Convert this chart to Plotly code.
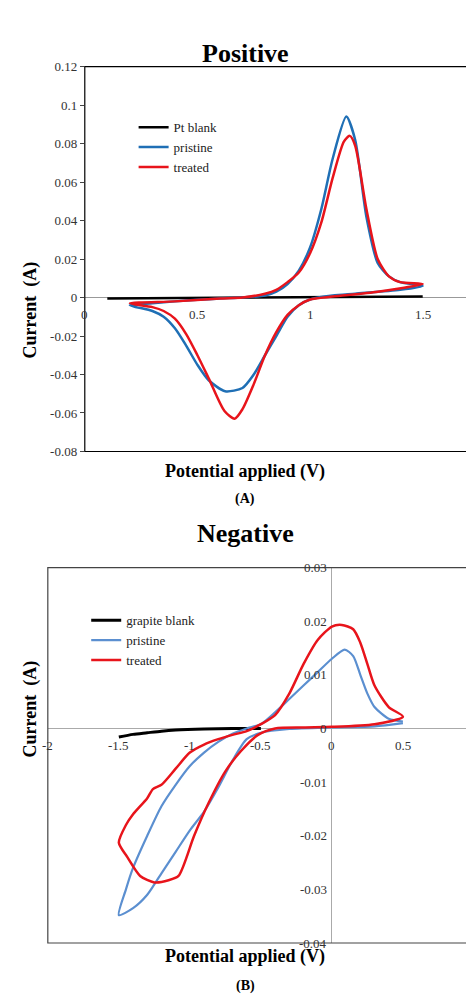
import plotly.graph_objects as go

# ---- Panel A (Positive) data ----
a_blank_x = [0.1, 0.5, 1.0, 1.5]
a_blank_y = [-0.0005, -0.0002, 0.0002, 0.0005]
a_pris_x = [0.2, 0.3, 0.4, 0.5, 0.6, 0.7, 0.8, 0.85, 0.9, 0.95, 1.0, 1.05, 1.1, 1.161, 1.2, 1.25, 1.3, 1.35, 1.4, 1.5,
            1.4, 1.2, 1.1, 1.0, 0.95, 0.9, 0.85, 0.8, 0.75, 0.7, 0.623, 0.55, 0.5, 0.45, 0.4, 0.35, 0.3, 0.2]
a_pris_y = [-0.004, -0.003, -0.002, -0.0012, -0.0005, 0.0, 0.001, 0.003, 0.007, 0.014, 0.026, 0.046, 0.072, 0.094, 0.082, 0.042, 0.018, 0.011, 0.008, 0.006,
            0.004, 0.002, 0.001, -0.001, -0.004, -0.01, -0.02, -0.03, -0.04, -0.047, -0.0487, -0.043, -0.035, -0.025, -0.016, -0.01, -0.007, -0.004]
a_treat_x = [0.2, 0.4, 0.6, 0.7, 0.8, 0.85, 0.9, 0.95, 1.0, 1.05, 1.1, 1.15, 1.176, 1.2, 1.25, 1.3, 1.35, 1.4, 1.5,
             1.3, 1.1, 1.0, 0.95, 0.9, 0.85, 0.8, 0.75, 0.7, 0.665, 0.62, 0.55, 0.5, 0.45, 0.4, 0.35, 0.3, 0.2]
a_treat_y = [-0.003, -0.002, -0.0005, 0.0, 0.002, 0.004, 0.008, 0.013, 0.023, 0.039, 0.062, 0.081, 0.084, 0.079, 0.046, 0.02, 0.011, 0.008, 0.007,
             0.003, 0.0005, -0.001, -0.004, -0.009, -0.018, -0.03, -0.045, -0.058, -0.063, -0.059, -0.042, -0.03, -0.019, -0.011, -0.007, -0.005, -0.003]
a_xticks = [0, 0.5, 1, 1.5]
a_xlabels = ["0", "0.5", "1", "1.5"]
a_yticks = [-0.08, -0.06, -0.04, -0.02, 0, 0.02, 0.04, 0.06, 0.08, 0.1, 0.12]
a_ylabels = ["-0.08", "-0.06", "-0.04", "-0.02", "0", "0.02", "0.04", "0.06", "0.08", "0.1", "0.12"]

# ---- Panel B (Negative) data ----
b_blank_x = [-1.5, -1.4, -1.3, -1.2, -1.1, -0.9, -0.7, -0.5]
b_blank_y = [-0.0016, -0.0011, -0.0008, -0.0005, -0.0003, -0.0001, 0.0, 0.0]
b_pris_x = [0.5, 0.3, 0.0, -0.3, -0.5, -0.6, -0.7, -0.8, -0.9, -1.0, -1.1, -1.2, -1.3, -1.4, -1.5,
            -1.45, -1.4, -1.3, -1.2, -1.1, -1.0, -0.9, -0.8, -0.7, -0.6, -0.5, -0.4, -0.3, -0.2, -0.1, 0.0, 0.09, 0.15, 0.2, 0.25, 0.3, 0.4, 0.5]
b_pris_y = [0.001, 0.0004, 0.0002, -0.0001, -0.0008, -0.002, -0.006, -0.011, -0.0155, -0.019, -0.023, -0.027, -0.031, -0.0335, -0.0348,
            -0.03, -0.026, -0.02, -0.0145, -0.0105, -0.007, -0.0045, -0.0025, -0.001, 0.0, 0.0008, 0.003, 0.0055, 0.008, 0.0105, 0.013, 0.0147, 0.0135, 0.01, 0.0065, 0.004, 0.0018, 0.0013]
b_treat_x = [0.5, 0.4, 0.3, 0.25, 0.2, 0.15, 0.07, 0.0, -0.1, -0.2, -0.3, -0.4, -0.5, -0.6, -0.7, -0.8, -0.9, -1.0, -1.1, -1.2, -1.26, -1.3, -1.4, -1.45, -1.5,
             -1.44, -1.35, -1.25, -1.15, -1.08, -0.97, -0.87, -0.75, -0.64, -0.52, -0.4, -0.2, 0.0, 0.3, 0.5]
b_treat_y = [0.0022, 0.004, 0.008, 0.012, 0.016, 0.0185, 0.0193, 0.019, 0.0165, 0.012, 0.0065, 0.0025, 0.0008, -0.0005, -0.0012, -0.002, -0.003, -0.0045, -0.0075, -0.0105, -0.0113, -0.013, -0.016, -0.018, -0.0213,
             -0.024, -0.0275, -0.0287, -0.0283, -0.0275, -0.02, -0.014, -0.008, -0.0042, -0.0012, 0.0, 0.0002, 0.0003, 0.0008, 0.0022]
b_xticks = [-2, -1.5, -1, -0.5, 0, 0.5, 1]
b_xlabels = ["-2", "-1.5", "-1", "-0.5", "0", "0.5", "1"]
b_yticks = [-0.04, -0.03, -0.02, -0.01, 0, 0.01, 0.02, 0.03]
b_ylabels = ["-0.04", "-0.03", "-0.02", "-0.01", "0", "0.01", "0.02", "0.03"]

BLUE_A = "#1F6FB5"
BLUE_B = "#5B8FD0"
RED = "#E8141B"
FONT = "Liberation Serif"
TICKF = dict(family=FONT, size=13, color="#333")

fig = go.Figure()
ln = dict(shape="spline", smoothing=0.7)
fig.add_trace(go.Scatter(x=a_blank_x, y=a_blank_y, mode="lines", name="Pt blank", line=dict(color="black", width=2.5), xaxis="x", yaxis="y", legend="legend"))
fig.add_trace(go.Scatter(x=a_pris_x, y=a_pris_y, mode="lines", name="pristine", line=dict(color=BLUE_A, width=2.5, **ln), xaxis="x", yaxis="y", legend="legend"))
fig.add_trace(go.Scatter(x=a_treat_x, y=a_treat_y, mode="lines", name="treated", line=dict(color=RED, width=2.5, **ln), xaxis="x", yaxis="y", legend="legend"))
fig.add_trace(go.Scatter(x=b_blank_x, y=b_blank_y, mode="lines", name="grapite blank", line=dict(color="black", width=3, **ln), xaxis="x2", yaxis="y2", legend="legend2"))
fig.add_trace(go.Scatter(x=b_pris_x, y=b_pris_y, mode="lines", name="pristine", line=dict(color=BLUE_B, width=2.2, **ln), xaxis="x2", yaxis="y2", legend="legend2"))
fig.add_trace(go.Scatter(x=b_treat_x, y=b_treat_y, mode="lines", name="treated", line=dict(color=RED, width=2.5, **ln), xaxis="x2", yaxis="y2", legend="legend2"))

ann = []
for v, t in zip(a_xticks, a_xlabels):
    ann.append(dict(x=v, y=0, xref="x", yref="y", text=t, showarrow=False, yshift=-17, font=TICKF))
for v, t in zip(b_xticks, b_xlabels):
    ann.append(dict(x=v, y=0, xref="x2", yref="y2", text=t, showarrow=False, yshift=-17, font=TICKF,
                    xanchor="right" if v == 1 else "center", xshift=4 if v == 1 else 0))
for v, t in zip(b_yticks, b_ylabels):
    ann.append(dict(x=0, y=v, xref="x2", yref="y2", text=t, showarrow=False, xanchor="right", xshift=-3, font=TICKF))

titles = [("Positive", 0.978, 26), ("Negative", 0.477, 26), ("Potential applied (V)", 0.540, 18), ("(A)", 0.512, 14),
          ("Potential applied (V)", 0.038, 18), ("(B)", 0.011, 14)]
for t, y, s in titles:
    ann.append(dict(x=0.5, y=y, xref="paper", yref="paper", text="<b>%s</b>" % t, showarrow=False, font=dict(family=FONT, size=s, color="black")))
ann.append(dict(x=0.022, y=0.754, xref="paper", yref="paper", text="<b>Current  (A)</b>", textangle=-90, showarrow=False, font=dict(family=FONT, size=18, color="black")))
ann.append(dict(x=0.022, y=0.25, xref="paper", yref="paper", text="<b>Current  (A)</b>", textangle=-90, showarrow=False, font=dict(family=FONT, size=18, color="black")))

shapes = [
    dict(type="rect", xref="x domain", yref="y domain", x0=0, x1=1, y0=0, y1=1, line=dict(color="black", width=1.2)),
    dict(type="rect", xref="x2 domain", yref="y2 domain", x0=0, x1=1, y0=0, y1=1, line=dict(color="#444", width=1.2)),
]

fig.update_layout(
    width=474, height=1007, margin=dict(l=0, r=0, t=0, b=0),
    paper_bgcolor="white", plot_bgcolor="white", font=dict(family=FONT, size=13, color="#333"),
    xaxis=dict(domain=[0.162, 0.970], range=[0, 1.7], showticklabels=False, ticks="", showgrid=False,
               showline=False, zeroline=False),
    yaxis=dict(domain=[0.560, 0.948], range=[-0.08, 0.12], tickvals=a_yticks, ticktext=a_ylabels, ticks="outside", ticklen=4,
               showgrid=False, showline=False, zeroline=True, zerolinecolor="#999", zerolinewidth=1, tickfont=TICKF),
    xaxis2=dict(domain=[0.084, 0.983], range=[-2, 1], showticklabels=False, ticks="", showgrid=False,
                showline=False, zeroline=True, zerolinecolor="#aaa", zerolinewidth=1),
    yaxis2=dict(domain=[0.0645, 0.443], range=[-0.04, 0.03], showticklabels=False, ticks="", showgrid=False,
                showline=False, zeroline=True, zerolinecolor="#aaa", zerolinewidth=1),
    legend=dict(x=0.265, y=0.902, xanchor="left", yanchor="top", bgcolor="rgba(0,0,0,0)", font=dict(family=FONT, size=13, color="#222"),
                tracegroupgap=10, itemwidth=30),
    legend2=dict(x=0.165, y=0.405, xanchor="left", yanchor="top", bgcolor="rgba(0,0,0,0)", font=dict(family=FONT, size=13, color="#222"),
                 tracegroupgap=10, itemwidth=30),
    annotations=ann, shapes=shapes, showlegend=True,
)
fig.write_html("out.html")
